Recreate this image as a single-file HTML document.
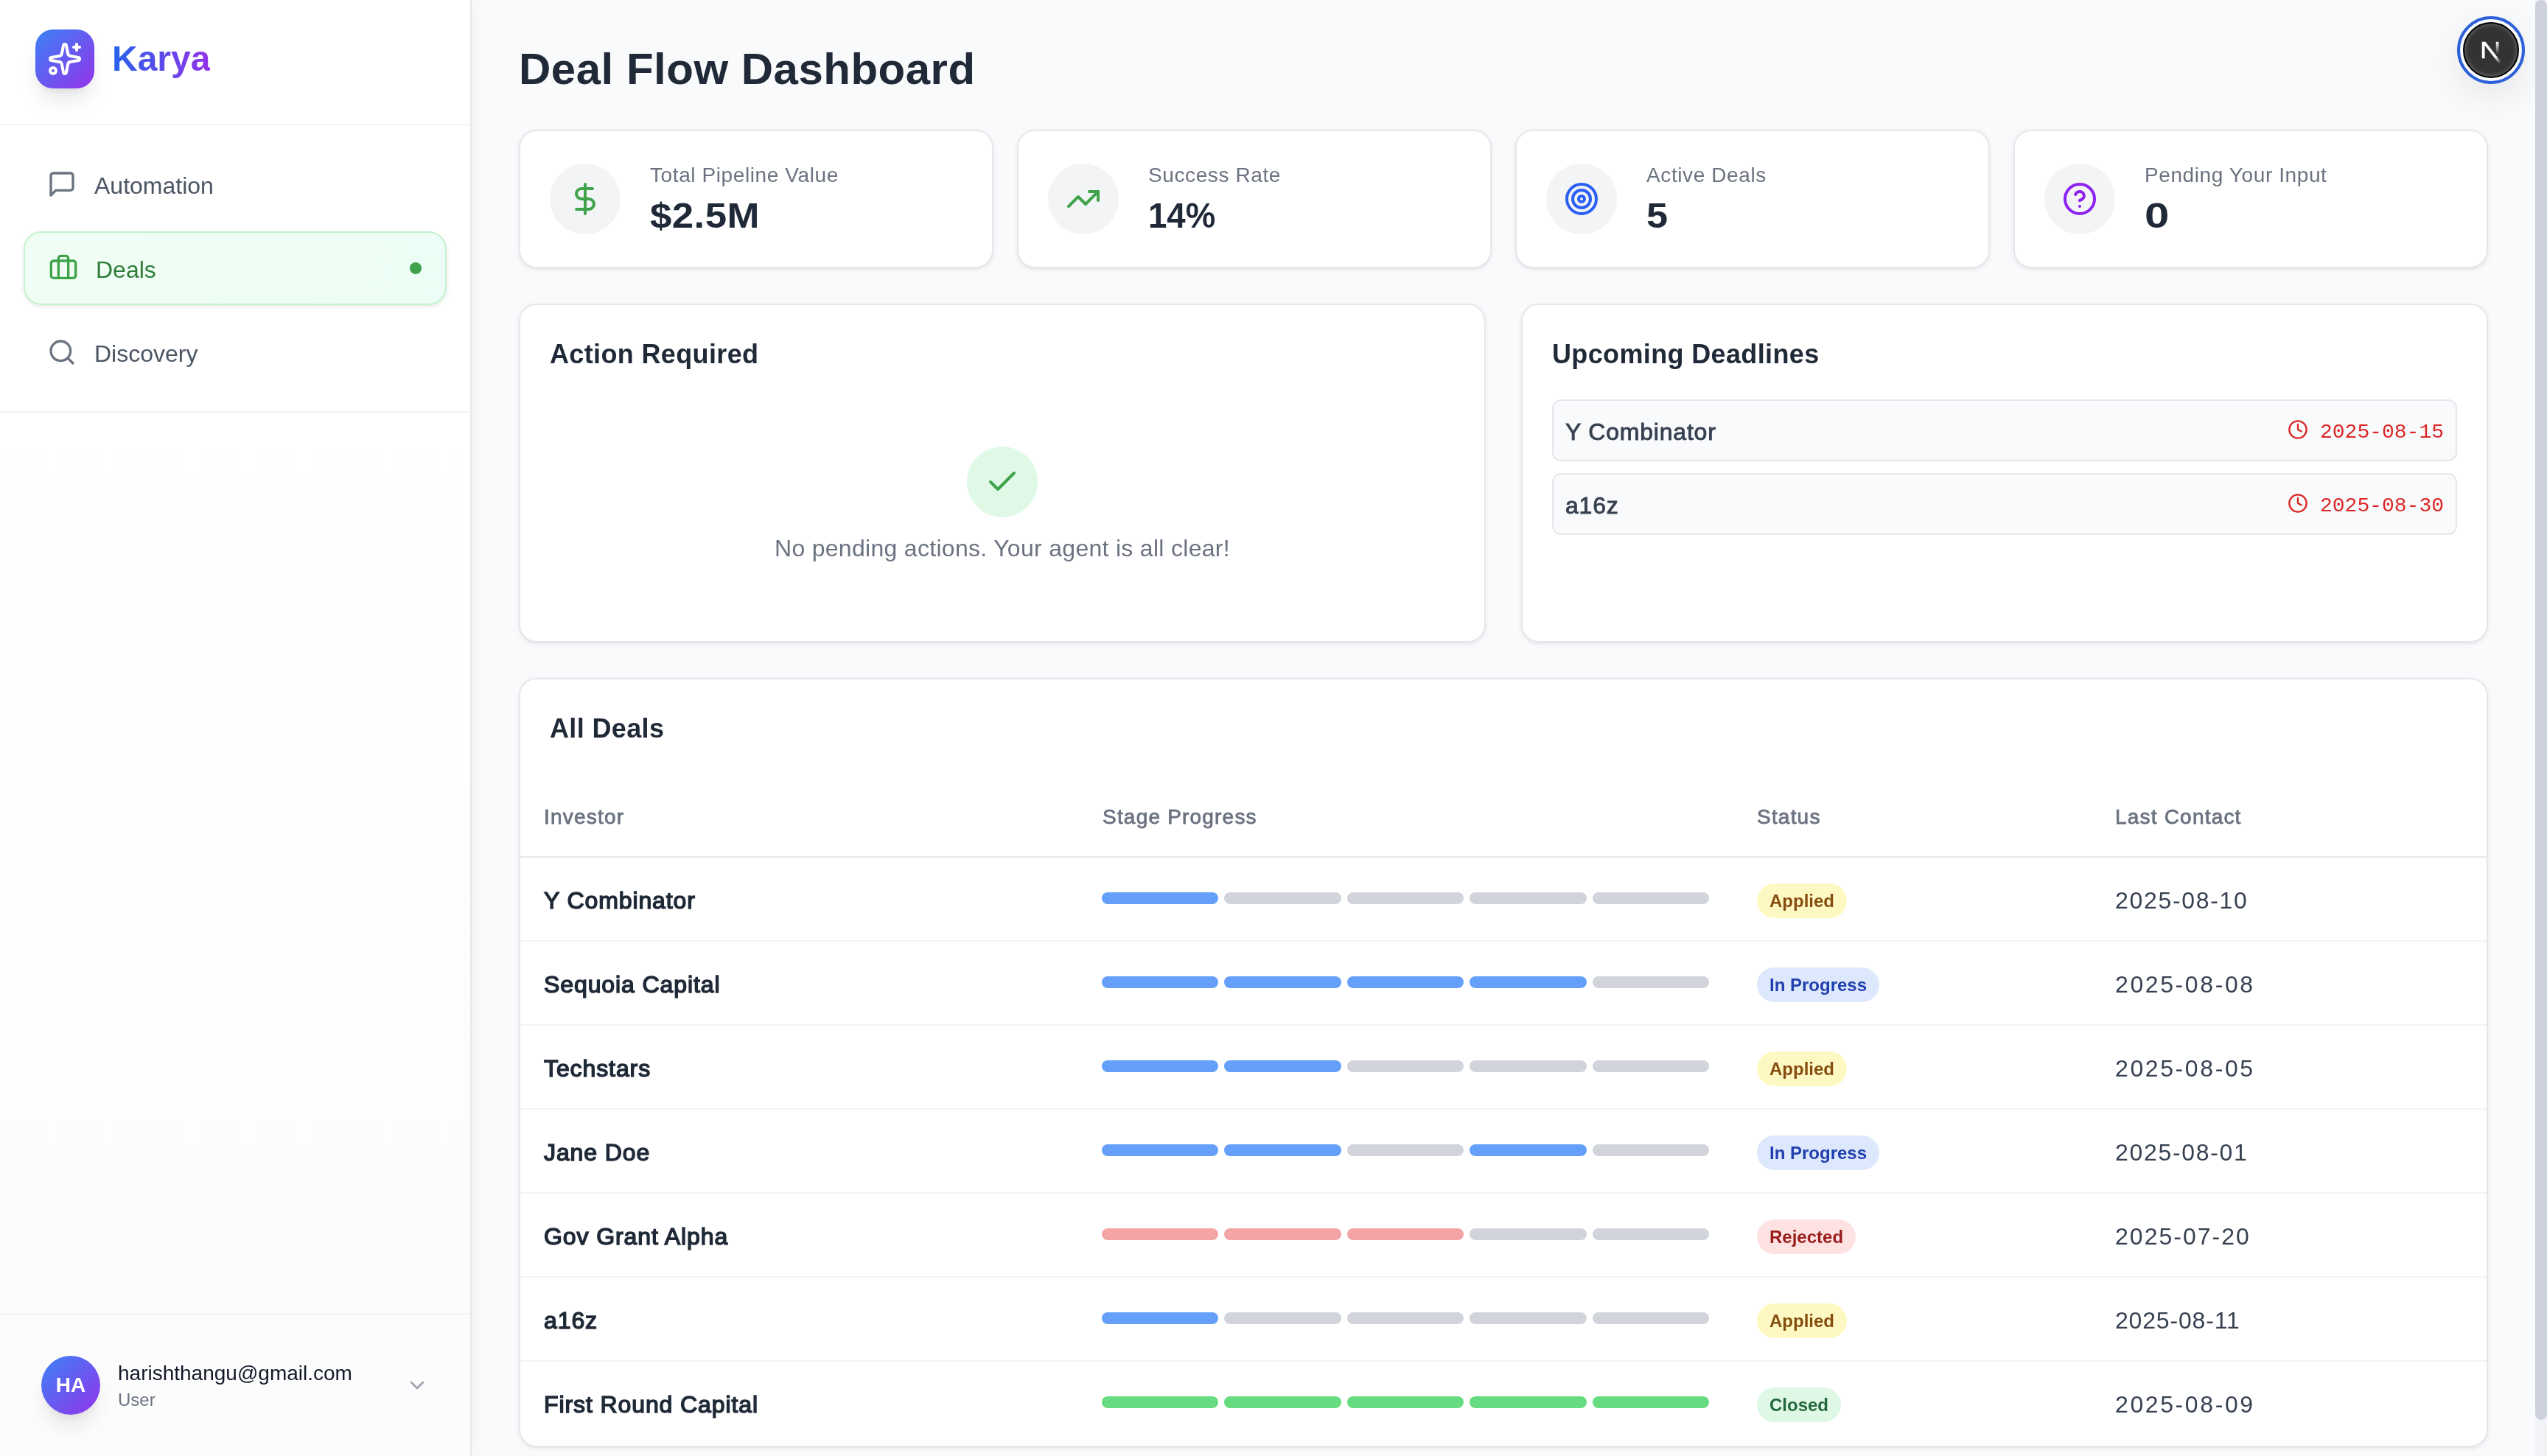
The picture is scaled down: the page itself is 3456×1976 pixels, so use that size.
<!DOCTYPE html>
<html lang="en">
<head>
<meta charset="utf-8">
<title>Karya - Deal Flow Dashboard</title>
<style>
*{box-sizing:border-box;margin:0;padding:0}
html,body{width:1728px;height:988px;overflow:hidden}
@media (min-width:3000px){html{zoom:2}}
body{font-family:"Liberation Sans",sans-serif;background:#f9fafb;color:#1f2937;position:relative;-webkit-font-smoothing:antialiased}
svg.i{fill:none;stroke:currentColor;stroke-width:2;stroke-linecap:round;stroke-linejoin:round;display:block}
.abs{position:absolute}
#root{position:absolute;left:0;top:0;width:1728px;height:988px;will-change:transform}
/* sidebar */
#sb{position:absolute;left:0;top:0;width:320px;height:988px;background:linear-gradient(180deg,#fff 0%,#fff 30%,#fcfcfd 100%);border-right:1px solid #e5e7eb;box-shadow:0 0 14px rgba(0,0,0,.045);z-index:2}
#sbhead{position:absolute;left:0;top:0;width:319px;height:85px;border-bottom:1px solid #f3f4f6}
#logo{position:absolute;left:24px;top:20px;width:40px;height:40px;border-radius:12px;background:linear-gradient(135deg,#3b82f6,#9333ea);box-shadow:0 10px 15px -3px rgba(0,0,0,.1),0 4px 6px -4px rgba(0,0,0,.1);color:#fff}
#logo svg{position:absolute;left:8px;top:8px;width:24px;height:24px}
#brand{position:absolute;left:76px;top:24.2px;font-size:24px;line-height:32px;font-weight:700;background:linear-gradient(90deg,#2563eb,#9333ea);-webkit-background-clip:text;background-clip:text;color:transparent}
.nav{position:absolute;left:16px;width:287px;height:48px;border-radius:12px;font-size:16px;color:#4b5563}
.nav svg{position:absolute;left:16px;top:14px;width:20px;height:20px;color:#6b7280}
.nav span{position:absolute;left:48px;top:13.2px;line-height:24px}
.nav.act{background:linear-gradient(90deg,#f0fdf4,#ecfdf5);border:1px solid #c2f3cf;height:50px;box-shadow:0 1px 3px rgba(0,0,0,.08),0 1px 2px -1px rgba(0,0,0,.08);color:#2e7d38}
.nav.act svg{color:#3fa34b;left:16px;top:14px}
.nav.act span{left:48px;top:13.2px}
.nav .dot{position:absolute;right:16px;top:20px;width:8px;height:8px;border-radius:50%;background:#3fa34b}
#navdiv{position:absolute;left:0;top:279px;width:319px;height:1px;background:#f3f4f6}
#userdiv{position:absolute;left:0;top:891px;width:319px;height:1px;background:#f3f4f6}
#avatar{position:absolute;left:28px;top:920px;width:40px;height:40px;border-radius:50%;background:linear-gradient(135deg,#3b82f6,#9333ea);color:#fff;font-weight:700;font-size:14px;line-height:40px;text-align:center;box-shadow:0 10px 15px -3px rgba(0,0,0,.1),0 4px 6px -4px rgba(0,0,0,.1)}
#email{position:absolute;left:80px;top:922px;font-size:14px;line-height:20px;color:#111827;font-weight:400}
#urole{position:absolute;left:80px;top:942px;font-size:12px;line-height:16px;color:#6b7280}
#chev{position:absolute;left:275px;top:932px;width:16px;height:16px;color:#9ca3af}
/* main */
#title{position:absolute;left:352px;top:29px;font-size:30px;line-height:36px;font-weight:700;color:#1f2937;letter-spacing:.25px}
.card{position:absolute;background:#fff;border:1px solid #e5e7eb;border-radius:12px;box-shadow:0 1px 3px rgba(0,0,0,.07),0 1px 2px -1px rgba(0,0,0,.07)}
.stat{top:88px;width:322px;height:94px}
.stat .ic{position:absolute;left:20px;top:22px;width:48px;height:48px;border-radius:50%;background:#f3f4f6}
.stat .ic svg{position:absolute;left:12px;top:12px;width:24px;height:24px}
.stat .lb{position:absolute;left:88px;top:20px;font-size:14px;line-height:20px;color:#6b7280;letter-spacing:.3px}
.stat .vl{position:absolute;left:88px;top:41.5px;font-size:24px;line-height:32px;font-weight:700;color:#1f2937}
.ctitle{position:absolute;left:20px;top:19.5px;font-size:18px;line-height:28px;font-weight:700;color:#1f2937;letter-spacing:.18px}
#okc{position:absolute;left:303px;top:95.8px;width:48px;height:48px;border-radius:50%;background:#e0f9e6;color:#3fa34b}
#okc svg{position:absolute;left:12px;top:12px;width:24px;height:24px}
#oktext{position:absolute;left:0;width:654px;top:152.9px;text-align:center;font-size:16px;line-height:24px;color:#6b7280;letter-spacing:.15px}
.dl{position:absolute;left:20px;width:614px;height:42px;background:#f9fafb;border:1px solid #e5e7eb;border-radius:6px}
.dl .n{position:absolute;left:8px;top:9px;font-size:16px;line-height:24px;font-weight:400;color:#374151;-webkit-text-stroke:.45px #374151;letter-spacing:.4px}
.dl .d{position:absolute;right:8px;top:11.5px;font-family:"Liberation Mono",monospace;font-size:14px;line-height:20px;color:#dc2626}
.dl .d svg{position:absolute;left:-22px;top:1.2px;width:14px;height:14px}
/* table */
.th{position:absolute;top:83.6px;font-size:14px;line-height:20px;font-weight:400;color:#6b7280;-webkit-text-stroke:.4px #6b7280;letter-spacing:.6px}
#hline{position:absolute;left:0;top:120px;width:1334px;height:1px;background:#e5e7eb}
.row{position:absolute;left:0;width:1334px;height:57px;border-top:1px solid #f3f4f6}
.row .nm{position:absolute;left:16px;top:17px;font-size:16px;line-height:24px;font-weight:400;color:#1f2937;-webkit-text-stroke:.75px #1f2937;letter-spacing:.45px}
.row .bars{position:absolute;left:394.5px;top:23.5px;width:412px;height:8px;display:flex;gap:4px}
.row .bars i{flex:1;height:8px;border-radius:4px;background:#d1d5db}
.row .bars i.b{background:#64a0fa}
.row .bars i.r{background:#f4a4a4}
.row .bars i.g{background:#67db7f}
.row .bd{position:absolute;left:839px;top:17.5px;height:23.5px;padding:0 8.5px;border-radius:12px;font-size:12px;line-height:24px;font-weight:700}
.bd.ap{background:#fef9c3;color:#854d0e}
.bd.ip{background:#dde8fc;color:#2140ae}
.bd.rj{background:#fee2e2;color:#991b1b}
.bd.cl{background:#dff8e5;color:#23683a}
.row .dt{position:absolute;left:1082px;top:17px;font-size:16px;line-height:24px;color:#374151;letter-spacing:.83px}
/* next badge + scrollbar */
#nx{position:absolute;left:1667px;top:11px;width:46px;height:46px;border-radius:50%;border:2px solid #2d5fd8;background:#f9fafb;box-shadow:0 8px 24px rgba(0,0,0,.08)}
#nx .in{position:absolute;left:2px;top:2px;width:38px;height:38px;border-radius:50%;background:#333;border:1px solid #000;box-shadow:inset 0 0 3px rgba(255,255,255,.35)}
#nx svg{position:absolute;left:3.4px;top:4px;width:28px;height:28px}
#sbar{position:absolute;left:1720px;top:0;width:8px;height:988px;background:#f1f3f7}
#sbar .th2{position:absolute;left:0;top:0;width:8px;height:963.5px;background:#cdd2de;border-radius:4px}
</style>
</head>
<body>
<div id="root">
<div id="sb">
  <div id="sbhead">
    <div id="logo"><svg class="i" viewBox="0 0 24 24"><path d="M11.017 2.814a1 1 0 0 1 1.966 0l1.051 5.558a2 2 0 0 0 1.594 1.594l5.558 1.051a1 1 0 0 1 0 1.966l-5.558 1.051a2 2 0 0 0-1.594 1.594l-1.051 5.558a1 1 0 0 1-1.966 0l-1.051-5.558a2 2 0 0 0-1.594-1.594l-5.558-1.051a1 1 0 0 1 0-1.966l5.558-1.051a2 2 0 0 0 1.594-1.594z"/><path d="M20 2v4"/><path d="M22 4h-4"/><circle cx="4" cy="20" r="2"/></svg></div>
    <div id="brand">Karya</div>
  </div>
  <div class="nav" style="top:101px"><svg class="i" viewBox="0 0 24 24"><path d="M21 15a2 2 0 0 1-2 2H7l-4 4V5a2 2 0 0 1 2-2h14a2 2 0 0 1 2 2z"/></svg><span>Automation</span></div>
  <div class="nav act" style="top:157px"><svg class="i" viewBox="0 0 24 24"><path d="M16 20V4a2 2 0 0 0-2-2h-4a2 2 0 0 0-2 2v16"/><rect width="20" height="14" x="2" y="6" rx="2"/></svg><span>Deals</span><div class="dot"></div></div>
  <div class="nav" style="top:215px"><svg class="i" viewBox="0 0 24 24"><circle cx="11" cy="11" r="8"/><path d="m21 21-4.3-4.3"/></svg><span>Discovery</span></div>
  <div id="navdiv"></div>
  <div id="userdiv"></div>
  <div id="avatar">HA</div>
  <div id="email">harishthangu@gmail.com</div>
  <div id="urole">User</div>
  <svg id="chev" class="i" viewBox="0 0 24 24"><path d="m6 9 6 6 6-6"/></svg>
</div>

<div id="title">Deal Flow Dashboard</div>

<div class="card stat" style="left:352px">
  <div class="ic" style="color:#3fa34b"><svg class="i" viewBox="0 0 24 24"><line x1="12" x2="12" y1="2" y2="22"/><path d="M17 5H9.5a3.5 3.5 0 0 0 0 7h5a3.5 3.5 0 0 1 0 7H6"/></svg></div>
  <div class="lb">Total Pipeline Value</div><div class="vl" style="transform:scaleX(1.1);transform-origin:0 0;letter-spacing:.2px">$2.5M</div>
</div>
<div class="card stat" style="left:690px">
  <div class="ic" style="color:#3fa34b"><svg class="i" viewBox="0 0 24 24"><polyline points="22 7 13.5 15.5 8.5 10.5 2 17"/><polyline points="16 7 22 7 22 13"/></svg></div>
  <div class="lb">Success Rate</div><div class="vl" style="transform:scaleX(.95);transform-origin:0 0">14%</div>
</div>
<div class="card stat" style="left:1028px">
  <div class="ic" style="color:#2b5ff4"><svg class="i" viewBox="0 0 24 24"><circle cx="12" cy="12" r="10"/><circle cx="12" cy="12" r="6"/><circle cx="12" cy="12" r="2"/></svg></div>
  <div class="lb">Active Deals</div><div class="vl" style="transform:scaleX(1.09);transform-origin:0 0">5</div>
</div>
<div class="card stat" style="left:1366px">
  <div class="ic" style="color:#8d22f0"><svg class="i" viewBox="0 0 24 24"><circle cx="12" cy="12" r="10"/><path d="M9.09 9a3 3 0 0 1 5.83 1c0 2-3 3-3 3"/><path d="M12 17h.01"/></svg></div>
  <div class="lb">Pending Your Input</div><div class="vl" style="transform:scaleX(1.25);transform-origin:0 0">0</div>
</div>

<div class="card" style="left:352px;top:206px;width:656px;height:230px">
  <div class="ctitle">Action Required</div>
  <div id="okc"><svg class="i" viewBox="0 0 24 24"><path d="M20 6 9 17l-5-5"/></svg></div>
  <div id="oktext">No pending actions. Your agent is all clear!</div>
</div>
<div class="card" style="left:1032px;top:206px;width:656px;height:230px">
  <div class="ctitle">Upcoming Deadlines</div>
  <div class="dl" style="top:64px"><div class="n">Y Combinator</div><div class="d"><svg class="i" viewBox="0 0 24 24"><circle cx="12" cy="12" r="10"/><polyline points="12 6 12 12 16 14"/></svg>2025-08-15</div></div>
  <div class="dl" style="top:114px"><div class="n">a16z</div><div class="d"><svg class="i" viewBox="0 0 24 24"><circle cx="12" cy="12" r="10"/><polyline points="12 6 12 12 16 14"/></svg>2025-08-30</div></div>
</div>

<div class="card" id="deals" style="left:352px;top:460px;width:1336px;height:522px;overflow:hidden">
  <div class="ctitle">All Deals</div>
  <div class="th" style="left:16px">Investor</div>
  <div class="th" style="left:395px">Stage Progress</div>
  <div class="th" style="left:839px">Status</div>
  <div class="th" style="left:1082px">Last Contact</div>
  <div id="hline"></div>
  <!--ROWS-->
  <div class="row" style="top:120px;border-top-color:#e5e7eb"><div class="nm">Y Combinator</div><div class="bars"><i class="b"></i><i></i><i></i><i></i><i></i></div><div class="bd ap">Applied</div><div class="dt" style="letter-spacing:0.84px">2025-08-10</div></div>
  <div class="row" style="top:177px;border-top-color:#f3f4f6"><div class="nm">Sequoia Capital</div><div class="bars"><i class="b"></i><i class="b"></i><i class="b"></i><i class="b"></i><i></i></div><div class="bd ip">In Progress</div><div class="dt" style="letter-spacing:1.3px">2025-08-08</div></div>
  <div class="row" style="top:234px;border-top-color:#f3f4f6"><div class="nm">Techstars</div><div class="bars"><i class="b"></i><i class="b"></i><i></i><i></i><i></i></div><div class="bd ap">Applied</div><div class="dt" style="letter-spacing:1.3px">2025-08-05</div></div>
  <div class="row" style="top:291px;border-top-color:#f3f4f6"><div class="nm">Jane Doe</div><div class="bars"><i class="b"></i><i class="b"></i><i></i><i class="b"></i><i></i></div><div class="bd ip">In Progress</div><div class="dt" style="letter-spacing:0.84px">2025-08-01</div></div>
  <div class="row" style="top:348px;border-top-color:#f3f4f6"><div class="nm">Gov Grant Alpha</div><div class="bars"><i class="r"></i><i class="r"></i><i class="r"></i><i></i><i></i></div><div class="bd rj">Rejected</div><div class="dt" style="letter-spacing:1.01px">2025-07-20</div></div>
  <div class="row" style="top:405px;border-top-color:#f3f4f6"><div class="nm">a16z</div><div class="bars"><i class="b"></i><i></i><i></i><i></i><i></i></div><div class="bd ap">Applied</div><div class="dt" style="letter-spacing:0.41px">2025-08-11</div></div>
  <div class="row" style="top:462px;border-top-color:#f3f4f6"><div class="nm">First Round Capital</div><div class="bars"><i class="g"></i><i class="g"></i><i class="g"></i><i class="g"></i><i class="g"></i></div><div class="bd cl">Closed</div><div class="dt" style="letter-spacing:1.3px">2025-08-09</div></div>
</div>

<div id="nx"><div class="in"><svg viewBox="0 0 180 180"><defs><linearGradient id="ng0" gradientUnits="userSpaceOnUse" x1="112" y1="119" x2="134" y2="147"><stop stop-color="#fff"/><stop offset="1" stop-color="#fff" stop-opacity="0"/></linearGradient><linearGradient id="ng1" gradientUnits="userSpaceOnUse" x1="121" y1="54" x2="120.8" y2="106.9"><stop stop-color="#fff"/><stop offset="1" stop-color="#fff" stop-opacity="0"/></linearGradient></defs><path d="M149.508 157.52L69.142 54H54V125.97H66.1136V69.3836L139.999 164.845C143.333 162.614 146.509 160.165 149.508 157.52Z" fill="url(#ng0)"/><rect x="115" y="54" width="12" height="72" fill="url(#ng1)"/></svg></div></div>
<div id="sbar"><div class="th2"></div></div>
</div>
</body>
</html>
